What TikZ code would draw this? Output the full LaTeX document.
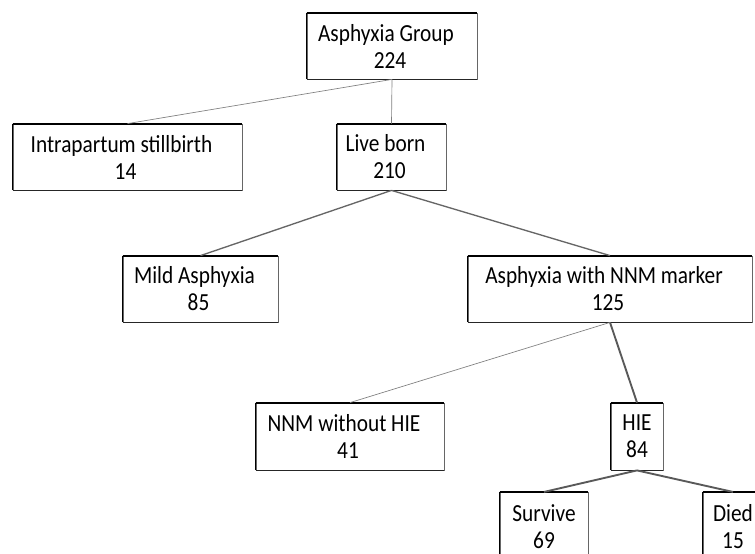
\documentclass[tikz,border=0pt]{standalone}
\usepackage{fontspec}
\setmainfont{Carlito}[FakeStretch=0.87]
\usepackage{tikz}
\usepackage{xcolor}

\newcommand{\boxtext}[2]{#1\hspace*{9pt}\\#2\hspace*{3pt}}

\tikzset{
	box/.style={draw=black!60, line width=0.6pt, align=center, inner sep=2pt,
		font=\fontsize{18.4}{20.25}\selectfont,
		append after command={(\tikzlastnode.north west) edge[draw=black, line width=1.4pt] (\tikzlastnode.north east)
			(\tikzlastnode.north west) edge[draw=black, line width=1pt] (\tikzlastnode.south west)
			(\tikzlastnode.south west) edge[draw=black!85, line width=0.9pt] (\tikzlastnode.south east)}},
	thinlink/.style={draw=black!50, line width=0.5pt},
	midlink/.style={draw=black!60, line width=1pt},
	boldlink/.style={draw=black!65, line width=1.4pt}
}

\begin{document}
\begin{tikzpicture}[x=0.75pt, y=-0.75pt]
	\clip (0,0) rectangle (755,553);
	\fill[white] (0,0) rectangle (755,553);
	\node[box, minimum width=127.5pt, minimum height=49.5pt] (group) at (392, 46) {\boxtext{Asphyxia Group}{224}};
	\node[box, minimum width=171.75pt, minimum height=49.5pt] (still) at (127.5, 157) {\boxtext{Intrapartum stillbirth}{14}};
	\node[box, minimum width=81.75pt, minimum height=49.5pt] (live) at (391.5, 157) {\boxtext{Live born}{210}};
	\node[box, minimum width=116.25pt, minimum height=49.5pt] (mild) at (200.5, 289) {\boxtext{Mild Asphyxia}{85}};
	\node[box, minimum width=213pt, minimum height=49.5pt] (marker) at (610, 289) {\boxtext{Asphyxia with NNM marker}{125}};
	\node[box, minimum width=141pt, minimum height=50.25pt] (nohie) at (350, 436.5) {\boxtext{NNM without HIE}{41}};
	\node[box, minimum width=39pt, minimum height=50.25pt] (hie) at (637, 436.5) {HIE\\84};
	\node[box, minimum width=66pt, minimum height=52pt] (survive) at (544, 527) {Survive\\69};
	\node[box, minimum width=45pt, minimum height=52pt] (died) at (733, 527) {Died\\15};

	\draw[thinlink] (group.south) -- (still.north);
	\draw[thinlink] (group.south) -- (live.north);
	\draw[midlink] (live.south) -- (mild.north);
	\draw[midlink] (live.south) -- (marker.north);
	\draw[thinlink] (marker.south) -- (nohie.north);
	\draw[boldlink] (marker.south) -- (hie.north);
	\draw[boldlink] (hie.south) -- (survive.north);
	\draw[boldlink] (hie.south) -- (died.north);
\end{tikzpicture}
\end{document}
